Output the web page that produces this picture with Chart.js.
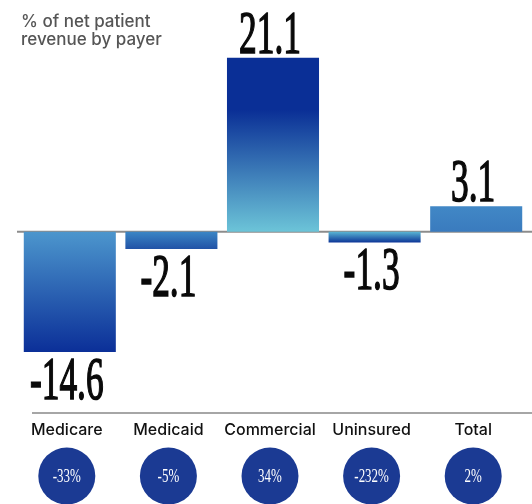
<!DOCTYPE html>
<html>
<head>
<meta charset="utf-8">
<script src="https://cdn.jsdelivr.net/npm/chart.js@4"></script>
<style>
  html, body { margin: 0; padding: 0; background: #fff; }
  #wrap { width: 532px; height: 504px; position: relative; }
</style>
</head>
<body>
<div id="wrap"><canvas id="payer"></canvas></div>
<script>
// data
const payers = ['Medicare', 'Medicaid', 'Commercial', 'Uninsured', 'Total'];
const revenueShare = [-14.6, -2.1, 21.1, -1.3, 3.1];
const marginLabels = ['-33%', '-5%', '34%', '-232%', '2%'];
const titleLines = ['% of net patient', 'revenue by payer'];

// bar colours: from the zero line (base) to the end of the bar (tip)
const BASE_COLORS = ['#4c96cd', '#3b86c5', '#6cc4d8', '#5ab6d4', '#3a7bbe'];
const TIP_COLORS  = ['#0b2f98', '#2152a6', '#0a2f96', '#0c3597', '#4188c6'];
const CIRCLE = '#1b3a93';

function barGradient(context) {
  const chart = context.chart;
  const { ctx, chartArea, scales } = chart;
  if (!chartArea) return BASE_COLORS[0];
  const i = context.dataIndex;
  const v = revenueShare[i];
  const y0 = scales.y.getPixelForValue(0);
  const y1 = scales.y.getPixelForValue(v);
  const g = ctx.createLinearGradient(0, y0, 0, y1);
  g.addColorStop(0, BASE_COLORS[i]);
  g.addColorStop(v > 10 ? 0.7 : 1, TIP_COLORS[i]);
  g.addColorStop(1, TIP_COLORS[i]);
  return g;
}

const payerDecor = {
  id: 'payerDecor',
  beforeDatasetsDraw(chart) {
    const { ctx, scales } = chart;
    const y0 = scales.y.getPixelForValue(0);
    ctx.save();
    ctx.strokeStyle = '#8c8c8c';
    ctx.lineWidth = 2;
    ctx.beginPath();
    ctx.moveTo(17, y0);
    ctx.lineTo(532, y0);
    ctx.stroke();
    ctx.restore();
  },
  afterDraw(chart) {
    const { ctx, scales, chartArea } = chart;
    const meta = chart.getDatasetMeta(0);
    ctx.save();

    // title
    ctx.fillStyle = '#555';
    ctx.font = '500 17px Inter, "Noto Sans", sans-serif';
    ctx.textAlign = 'left';
    ctx.textBaseline = 'alphabetic';
    titleLines.forEach((t, k) => ctx.fillText(t, 21, 27 + k * 18));

    // big condensed value labels
    meta.data.forEach((bar, i) => {
      const v = revenueShare[i];
      const txt = v.toFixed(1);
      const yEnd = scales.y.getPixelForValue(v);
      const base = v >= 0 ? yEnd - 5 : yEnd + 47;
      ctx.save();
      ctx.translate(bar.x - 3, base);
      ctx.scale(0.58, 1);
      ctx.fillStyle = '#0a0a0a';
      ctx.strokeStyle = '#0a0a0a';
      ctx.lineWidth = 1.6;
      ctx.font = '61px "Liberation Serif", "DejaVu Serif", serif';
      ctx.textAlign = 'center';
      ctx.fillText(txt, 0, 0);
      ctx.strokeText(txt, 0, 0);
      ctx.restore();
    });

    // bottom rule
    ctx.strokeStyle = '#a6a6a6';
    ctx.lineWidth = 2;
    ctx.beginPath();
    ctx.moveTo(32, chartArea.bottom);
    ctx.lineTo(532, chartArea.bottom);
    ctx.stroke();

    // category names + circles
    meta.data.forEach((bar, i) => {
      const cx = bar.x - 3;
      ctx.fillStyle = '#111';
      ctx.font = '500 16px Inter, "Noto Sans", sans-serif';
      ctx.textAlign = 'center';
      ctx.fillText(payers[i], cx, 435);

      ctx.fillStyle = CIRCLE;
      ctx.beginPath();
      ctx.arc(cx, 476, 28.5, 0, Math.PI * 2);
      ctx.fill();

      ctx.save();
      ctx.translate(cx, 482);
      ctx.scale(0.72, 1);
      ctx.fillStyle = '#fff';
      ctx.font = '18px "Liberation Serif", "DejaVu Serif", serif';
      ctx.textAlign = 'center';
      ctx.fillText(marginLabels[i], 0, 0);
      ctx.restore();
    });
    ctx.restore();
  }
};

new Chart(document.getElementById('payer'), {
  type: 'bar',
  data: {
    labels: payers,
    datasets: [{
      data: revenueShare,
      backgroundColor: barGradient,
      borderWidth: 0,
      barPercentage: 0.906,
      categoryPercentage: 1
    }]
  },
  options: {
    responsive: true,
    maintainAspectRatio: false,
    animation: false,
    layout: { padding: { left: 19, right: 5, top: 1, bottom: 91 } },
    scales: {
      x: { display: false },
      y: { display: false, min: -22, max: 28 }
    },
    plugins: { legend: { display: false }, tooltip: { enabled: false } }
  },
  plugins: [payerDecor]
});
</script>
</body>
</html>
